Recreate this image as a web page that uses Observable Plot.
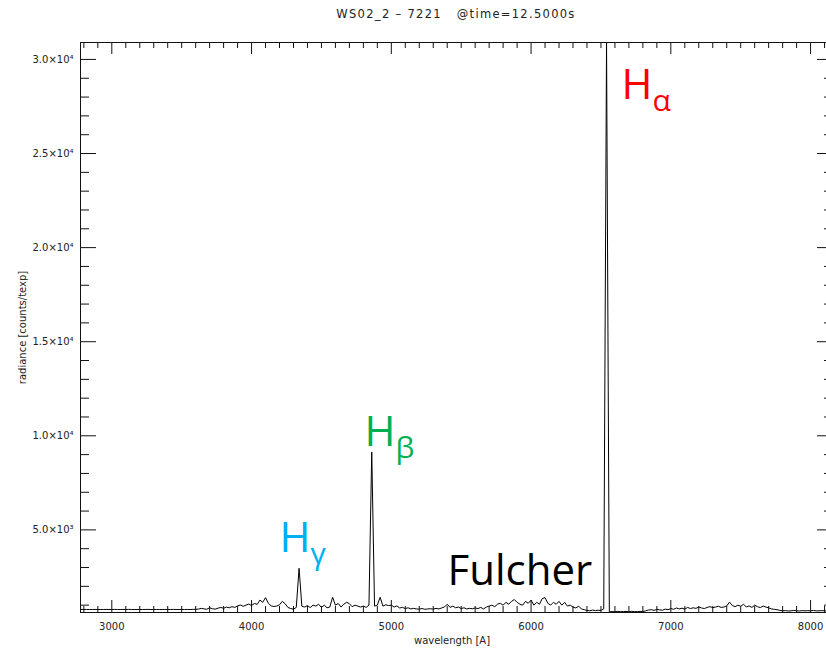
<!DOCTYPE html>
<html>
<head>
<meta charset="utf-8">
<script src="https://cdn.jsdelivr.net/npm/d3@7"></script>
<script src="https://cdn.jsdelivr.net/npm/@observablehq/plot@0.6"></script>
<style>
  html, body { margin: 0; padding: 0; background: white; overflow: hidden; }
  #wrap { width: 826px; height: 649px; overflow: hidden; }
  #wrap svg { max-width: none !important; }
</style>
</head>
<body>
<div id="wrap"></div>
<script>
// ---- Data ----
const titleText = "WS02_2 – 7221   @time=12.5000s";
const xLabel = "wavelength [A]";
const yLabel = "radiance [counts/texp]";

// spectrum sampled every 20 Å from 2780 Å to 8160 Å
const wavelengthStart = 2780;
const wavelengthStep = 20;
const radiance = [
  775, 770, 772, 768, 770, 774, 769, 771, 770, 772,
  771, 769, 773, 770, 768, 772, 770, 775, 771, 769,
  770, 773, 768, 771, 774, 769, 770, 772, 768, 771,
  772, 770, 769, 774, 771, 768, 773, 770, 772, 769,
  775, 780, 790, 830, 800, 785, 860, 810, 790, 840,
  880, 830, 900, 860, 920, 880, 960, 1010, 940, 1000,
  1060, 980, 1090, 1040, 1270, 1150, 1400, 1100, 960, 930,
  950, 1020, 1200, 1080, 880, 820, 790, 880, 2960, 940,
  900, 980, 870, 1000, 950, 1050, 880, 1000, 860, 900,
  1420, 1000, 1090, 900, 1050, 1150, 1080, 920, 1000, 950,
  900, 950, 880, 1000, 9140, 950, 1000, 1420, 950, 1020,
  980, 1000, 900, 960, 850, 880, 820, 860, 800, 830,
  800, 790, 820, 780, 800, 810, 790, 830, 800, 850,
  900, 1050, 880, 950, 860, 900, 820, 860, 800, 830,
  810, 850, 820, 880, 800, 900, 950, 1000, 920, 1050,
  1100, 1000, 1150, 1050, 1200, 1300, 1150, 1050, 1000, 1200,
  1100, 1270, 1000, 1150, 1050, 1350, 1400, 1100, 1000, 1150,
  1050, 1200, 1000, 1150, 950, 1000, 900, 850, 950, 800,
  760, 720, 700, 740, 710, 730, 720, 800, 30900, 640,
  660, 650, 670, 655, 660, 665, 650, 670, 660, 655,
  665, 660, 700, 740, 760, 720, 780, 750, 730, 790,
  760, 820, 780, 850, 800, 840, 790, 880, 820, 860,
  830, 900, 850, 820, 880, 920, 870, 900, 940, 880,
  900, 960, 1160, 980, 920, 1000, 940, 1050, 900, 960,
  880, 1000, 920, 870, 950, 900, 860, 800, 780, 760,
  720, 700, 710, 690, 700, 720, 700, 690, 710, 700,
  705, 700, 720, 695, 700, 710, 700, 690, 700, 705
];

// axes
const xDomain = [2776, 8164];
const yDomain = [610, 30900];
const xMajorTicks = [3000, 4000, 5000, 6000, 7000, 8000];
const xTickLabels = ["3000", "4000", "5000", "6000", "7000", "8000"];
const xMinorStep = 100;
const yMajorTicks = [5000, 10000, 15000, 20000, 25000, 30000];
const yTickLabels = ["5.0×10³", "1.0×10⁴", "1.5×10⁴", "2.0×10⁴", "2.5×10⁴", "3.0×10⁴"];
const yMinorStep = 1000;

// annotations
const annoMain = ["H", "H", "H", "Fulcher"];
const annoSub = ["α", "β", "γ", ""];
const annoColor = ["#ff0000", "#00b050", "#00b0f0", "#000000"];
const annoWavelength = [6647, 4808, 4200, 5402];
const annoRadiance = [27900, 9480, 3800, 2070];

// ---- build tables ----
const spectrum = radiance.map((r, i) => ({wavelength: wavelengthStart + i * wavelengthStep, radiance: r}));
const xMinorTicks = d3.range(2800, xDomain[1], xMinorStep).filter(v => !xMajorTicks.includes(v));
const yMinorTicks = d3.range(1000, yDomain[1], yMinorStep).filter(v => !yMajorTicks.includes(v));
const annotations = annoMain.map((t, i) => ({t, sub: annoSub[i], color: annoColor[i], x: annoWavelength[i], y: annoRadiance[i]}));

const W = 834, H = 649;
const mL = 80, mR = 1, mT = 42, mB = 37;
const innerW = W - mL - mR, innerH = H - mT - mB;
const xMajLen = 12, xMinLen = 6, yMajLen = 16, yMinLen = 9;

const chart = Plot.plot({
  width: W, height: H,
  marginLeft: mL, marginRight: mR, marginTop: mT, marginBottom: mB,
  x: {domain: xDomain},
  y: {domain: yDomain},
  style: {fontFamily: "'DejaVu Sans', sans-serif", fontSize: "10px", color: "#222", background: "white", overflow: "hidden", maxWidth: "none"},
  marks: [
    // spectrum
    Plot.line(spectrum, {x: "wavelength", y: "radiance", stroke: "black", strokeWidth: 1}),
    // ticks (inward)
    Plot.ruleX(xMajorTicks, {insetTop: innerH - xMajLen, stroke: "#111"}),
    Plot.ruleX(xMajorTicks, {insetBottom: innerH - xMajLen, stroke: "#111"}),
    Plot.ruleX(xMinorTicks, {insetTop: innerH - xMinLen, stroke: "#111"}),
    Plot.ruleX(xMinorTicks, {insetBottom: innerH - xMinLen, stroke: "#111"}),
    Plot.ruleY(yMajorTicks, {insetRight: innerW - yMajLen, stroke: "#111"}),
    Plot.ruleY(yMajorTicks, {insetLeft: innerW - yMajLen, stroke: "#111"}),
    Plot.ruleY(yMinorTicks, {insetRight: innerW - yMinLen, stroke: "#111"}),
    Plot.ruleY(yMinorTicks, {insetLeft: innerW - yMinLen, stroke: "#111"}),
    Plot.frame({stroke: "#111"}),
    // tick labels
    Plot.axisX({ticks: xMajorTicks, tickSize: 0, tickPadding: 10, label: null,
      tickFormat: d => xTickLabels[xMajorTicks.indexOf(d)]}),
    Plot.axisY({ticks: yMajorTicks, tickSize: 0, tickPadding: 7, label: null,
      tickFormat: d => yTickLabels[yMajorTicks.indexOf(d)]}),
    // axis titles & title
    Plot.text([xLabel], {frameAnchor: "bottom", dy: 31, dx: -5, lineAnchor: "bottom", fontSize: 10}),
    Plot.text([yLabel], {frameAnchor: "left", dx: -58, rotate: -90, textAnchor: "middle", lineAnchor: "middle", fontSize: 10}),
    Plot.text([titleText], {frameAnchor: "top", dy: -28.5, dx: -1, lineAnchor: "middle", fontSize: 11.5}),
    // annotations
    Plot.text(annotations, {x: "x", y: "y", text: "t", fill: "color", textAnchor: "start", lineAnchor: "bottom",
      fontSize: 42, fontFamily: "'Open Sans', sans-serif"}),
    Plot.text(annotations, {x: "x", y: "y", text: "sub", fill: "color", textAnchor: "start", lineAnchor: "bottom",
      fontSize: 30, dx: 31, dy: 12, fontFamily: "'Open Sans', sans-serif"})
  ]
});
// letter spacing for the Hershey-like title
d3.select(chart).selectAll("text").filter(function() { return this.textContent === titleText; })
  .style("letter-spacing", "1.3px").style("white-space", "pre");
document.getElementById("wrap").appendChild(chart);
</script>
</body>
</html>
